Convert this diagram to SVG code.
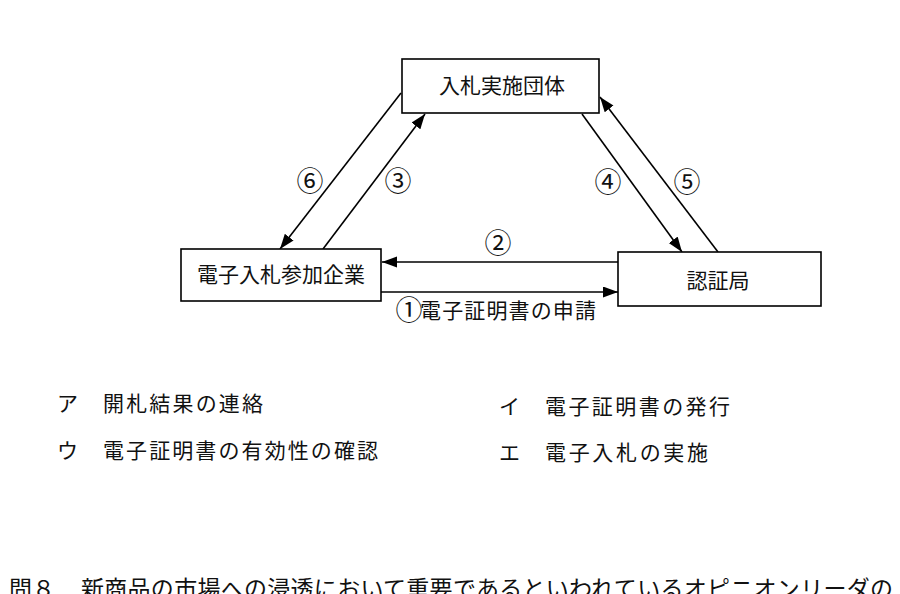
<svg xmlns="http://www.w3.org/2000/svg" width="900" height="594" viewBox="0 0 900 594">
<defs>
<style>
.box{fill:#fff;stroke:#000;stroke-width:1.6}
.ln{stroke:#000;stroke-width:1.6;fill:none;marker-end:url(#ah)}
text{font-family:"Noto Sans CJK JP","Noto Sans",sans-serif;fill:#111}
.nt{font-size:21px;text-anchor:middle}
.lb{font-size:27px;text-anchor:middle}
.op{font-size:21px}
</style>
<marker id="ah" markerUnits="userSpaceOnUse" markerWidth="16" markerHeight="12" refX="15" refY="5.5" orient="auto">
<path d="M0,0 L15,5.5 L0,11 z" fill="#000"/>
</marker>
</defs>
<rect width="900" height="594" fill="#fff"/>
<g id="connectors">
<line class="ln" x1="401" y1="93" x2="280" y2="249"/>
<line class="ln" x1="323" y1="249" x2="425" y2="114"/>
<line class="ln" x1="582" y1="114" x2="682" y2="252"/>
<line class="ln" x1="718" y1="252" x2="600" y2="97"/>
<line class="ln" x1="618" y1="262" x2="382" y2="262"/>
<line class="ln" x1="381" y1="292" x2="618" y2="292"/>
<text class="lb" x="310" y="191">⑥</text>
<text class="lb" x="398" y="191">③</text>
<text class="lb" x="608" y="192">④</text>
<text class="lb" x="687" y="192">⑤</text>
<text class="lb" x="498" y="253">②</text>
<text class="lb" x="409" y="320">①</text>
<text class="op" x="420" y="318" textLength="176">電子証明書の申請</text>
</g>
<g id="node-top">
<rect class="box" x="402" y="59" width="197" height="54"/>
<text class="nt" x="502" y="93">入札実施団体</text>
</g>
<g id="node-left">
<rect class="box" x="181" y="249" width="200" height="52"/>
<text class="nt" x="281" y="282">電子入札参加企業</text>
</g>
<g id="node-right">
<rect class="box" x="618" y="252" width="203" height="54"/>
<text class="nt" x="718" y="288">認証局</text>
</g>
<g id="options">
<text class="op" x="57" y="411">ア</text>
<text class="op" x="103" y="411" textLength="160">開札結果の連絡</text>
<text class="op" x="499" y="414">イ</text>
<text class="op" x="545" y="414" textLength="185">電子証明書の発行</text>
<text class="op" x="57" y="458">ウ</text>
<text class="op" x="103" y="458" textLength="275">電子証明書の有効性の確認</text>
<text class="op" x="499" y="460">エ</text>
<text class="op" x="545" y="460" textLength="163">電子入札の実施</text>
</g>
<text x="9" y="597" font-size="23">問８</text>
<text x="81" y="597" font-size="23" textLength="812">新商品の市場への浸透において重要であるといわれているオピニオンリーダの</text>
</svg>
